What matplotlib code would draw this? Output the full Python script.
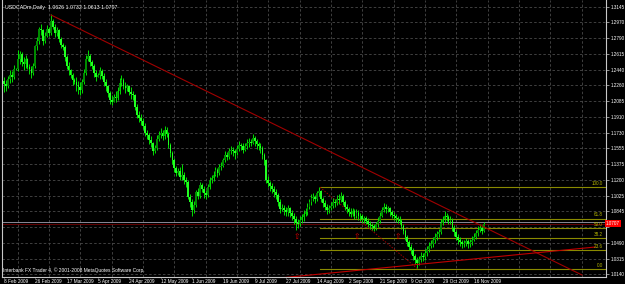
import matplotlib
matplotlib.use("Agg")
import matplotlib.pyplot as plt
import matplotlib.transforms as mtransforms
import numpy as np

plt.rcParams["font.family"] = ["Liberation Sans", "DejaVu Sans"]

# USDCAD daily, prices in pips (x 1e-4); open of each bar = previous close
first_open = 12310
close = [
    12280, 12250, 12330, 12380, 12360, 12450, 12440, 12560, 12610, 12520,
    12500, 12560, 12470, 12440, 12400, 12480, 12700, 12760, 12890, 12880,
    12760, 12820, 12900, 12850, 12990, 12920, 12850, 12880, 12780, 12720,
    12690, 12580, 12480, 12430, 12380, 12320, 12300, 12270, 12240, 12210,
    12300, 12400, 12560, 12590, 12520, 12480, 12400, 12360, 12380, 12420,
    12370, 12300, 12250, 12180, 12100, 12080, 12130, 12120, 12200, 12290,
    12320, 12260, 12230, 12250, 12190, 12160, 12150, 12020, 11930, 11900,
    11860, 11810, 11730, 11700, 11650, 11610, 11520, 11560, 11660, 11700,
    11730, 11690, 11760, 11720, 11590, 11500, 11420, 11330, 11280, 11300,
    11230, 11250, 11200, 11180, 11010, 10950, 10860, 10920, 11060, 11020,
    11140, 11100, 11050, 11030, 11120, 11200, 11220, 11260, 11310, 11280,
    11340, 11360, 11420, 11480, 11460, 11520, 11540, 11530, 11500, 11550,
    11590, 11580, 11540, 11580, 11610, 11630, 11620, 11670, 11640, 11600,
    11580, 11560, 11480, 11420, 11200, 11160, 11130, 11100, 11060, 11030,
    10950, 10870, 10890, 10860, 10840, 10880, 10830, 10800, 10760, 10720,
    10700, 10750, 10780, 10820, 10840, 10900, 10950, 11000, 11010, 10980,
    11050, 11070, 10980, 10940, 10900, 10860, 10880, 10910, 10950, 10940,
    10990, 10970, 11020, 10950, 10900, 10870, 10840, 10820, 10850, 10800,
    10830, 10800, 10790, 10760, 10770, 10740, 10710, 10690, 10680, 10660,
    10700, 10740, 10800, 10860, 10900, 10870, 10880, 10840, 10810, 10790,
    10770, 10760, 10740, 10680, 10630, 10560, 10500, 10450, 10410, 10340,
    10300, 10270, 10310, 10350, 10330, 10380, 10420, 10460, 10480, 10520,
    10560, 10590, 10610, 10720, 10760, 10790, 10780, 10740, 10750, 10660,
    10610, 10560, 10520, 10500, 10480, 10490, 10510, 10480, 10500, 10530,
    10560, 10600, 10640, 10660, 10626, 10707,
]
high = [
    12355, 12320, 12370, 12430, 12420, 12490, 12460, 12660, 12650, 12640,
    12580, 12600, 12570, 12500, 12480, 12510, 12720, 12800, 12920, 12950,
    12900, 12860, 12940, 12920, 13060, 13010, 12950, 12920, 12900, 12810,
    12740, 12710, 12600, 12520, 12450, 12400, 12340, 12350, 12310, 12300,
    12330, 12440, 12600, 12660, 12610, 12550, 12500, 12430, 12400, 12470,
    12450, 12400, 12330, 12270, 12200, 12150, 12160, 12200, 12240, 12340,
    12380, 12340, 12300, 12280, 12270, 12240, 12200, 12170, 12050, 11970,
    11940, 11890, 11840, 11760, 11730, 11690, 11630, 11590, 11700, 11750,
    11780, 11760, 11800, 11790, 11740, 11610, 11530, 11450, 11360, 11330,
    11340, 11380, 11290, 11230, 11200, 11040, 10980, 10960, 11090, 11110,
    11180, 11170, 11130, 11090, 11150, 11230, 11260, 11300, 11350, 11330,
    11380, 11400, 11450, 11520, 11510, 11560, 11580, 11570, 11550, 11590,
    11640, 11620, 11610, 11620, 11660, 11670, 11660, 11710, 11690, 11660,
    11630, 11610, 11580, 11500, 11430, 11240, 11190, 11170, 11130, 11100,
    11050, 10980, 10930, 10920, 10900, 10920, 10900, 10860, 10830, 10790,
    10760, 10790, 10820, 10860, 10890, 10940, 10990, 11040, 11050, 11030,
    11080, 11117, 11090, 11010, 10970, 10930, 10920, 10950, 11000, 10980,
    11030, 11040, 11060, 11040, 10970, 10930, 10900, 10880, 10890, 10870,
    10870, 10860, 10830, 10820, 10800, 10800, 10770, 10740, 10720, 10710,
    10730, 10780, 10840, 10900, 10940, 10930, 10910, 10900, 10860, 10840,
    10820, 10800, 10790, 10760, 10700, 10650, 10580, 10530, 10480, 10430,
    10370, 10330, 10350, 10390, 10380, 10420, 10460, 10500, 10520, 10560,
    10600, 10630, 10650, 10760, 10800, 10850, 10830, 10810, 10790, 10770,
    10690, 10640, 10590, 10560, 10530, 10530, 10550, 10540, 10540, 10570,
    10600, 10640, 10680, 10700, 10690, 10732,
]
low = [
    12190, 12200, 12230, 12290, 12300, 12330, 12430, 12420, 12500, 12480,
    12430, 12460, 12440, 12390, 12340, 12380, 12460, 12660, 12730, 12830,
    12720, 12740, 12800, 12820, 12830, 12890, 12800, 12820, 12750, 12680,
    12660, 12540, 12440, 12380, 12340, 12270, 12280, 12200, 12170, 12150,
    12180, 12280, 12380, 12530, 12480, 12440, 12360, 12310, 12350, 12330,
    12330, 12260, 12200, 12130, 12050, 12040, 12070, 12070, 12100, 12170,
    12260, 12220, 12180, 12200, 12150, 12110, 12100, 11980, 11890, 11850,
    11820, 11770, 11690, 11660, 11600, 11570, 11480, 11500, 11540, 11640,
    11670, 11650, 11660, 11680, 11560, 11460, 11380, 11290, 11240, 11260,
    11200, 11200, 11150, 11120, 10980, 10900, 10790, 10830, 10900, 10980,
    11000, 11060, 11000, 10990, 11010, 11100, 11170, 11190, 11240, 11230,
    11260, 11310, 11340, 11400, 11420, 11440, 11490, 11470, 11440, 11480,
    11530, 11540, 11500, 11520, 11550, 11570, 11580, 11600, 11580, 11550,
    11540, 11500, 11440, 11370, 11170, 11120, 11080, 11050, 11010, 10980,
    10910, 10830, 10850, 10810, 10790, 10800, 10780, 10750, 10710, 10640,
    10660, 10680, 10720, 10740, 10790, 10810, 10870, 10920, 10960, 10940,
    10960, 11020, 10950, 10900, 10860, 10820, 10830, 10860, 10890, 10900,
    10920, 10930, 10950, 10920, 10860, 10830, 10800, 10780, 10790, 10760,
    10770, 10750, 10740, 10720, 10720, 10700, 10670, 10650, 10640, 10630,
    10640, 10670, 10720, 10780, 10840, 10830, 10840, 10800, 10770, 10750,
    10730, 10720, 10700, 10650, 10590, 10520, 10460, 10410, 10370, 10300,
    10260, 10206, 10240, 10280, 10290, 10300, 10350, 10390, 10430, 10450,
    10490, 10530, 10560, 10590, 10690, 10730, 10740, 10700, 10700, 10630,
    10570, 10520, 10480, 10460, 10440, 10450, 10460, 10440, 10450, 10470,
    10510, 10540, 10570, 10610, 10590, 10613,
]
assert len(close) == len(high) == len(low)

date_labels = ["8 Feb 2009", "26 Feb 2009", "17 Mar 2009", "5 Apr 2009",
               "24 Apr 2009", "12 May 2009", "1 Jun 2009", "19 Jun 2009",
               "9 Jul 2009", "27 Jul 2009", "14 Aug 2009", "2 Sep 2009",
               "21 Sep 2009", "9 Oct 2009", "29 Oct 2009", "16 Nov 2009"]
bars_per_label = 16

price_labels = ["1.3145", "1.2970", "1.2790", "1.2615", "1.2440", "1.2260",
                "1.2085", "1.1910", "1.1730", "1.1555", "1.1375", "1.1200",
                "1.1025", "1.0845", "1.0670", "1.0490", "1.0315", "1.0140"]
price_top, price_bottom = 1.3145, 1.0140

header = "USDCADm,Daily  1.0626 1.0732 1.0613 1.0707"
footer = "Interbank FX Trader 4, \u00a9 2001-2008 MetaQuotes Software Corp."
last_price = 1.0707
last_text = "1.0707"
bid_line = 1.0722

# fibonacci retracement (high/low anchors in bar index, price)
fib_high = (161.4, 1.1117)
fib_low = (211.4, 1.0199)
fib_ratios = [1.0, 0.618, 0.5, 0.382, 0.236, 0.0]
fib_texts = ["100.0", "61.8", "50.0", "38.2", "23.6", "0.0"]

# trend lines (bar index, price)
down_trend = [(24.0, 1.3052), (295.2, 1.0132)]
up_trend = [(143.5, 1.0104), (301.8, 1.0446)]
arrow_bars = [149.6, 180.3, 200.9]
arrow_price = 1.0560

# ---- figure ----
W, H = 625, 284
fig = plt.figure(figsize=(W / 100, H / 100), dpi=100, facecolor="black")
ax = fig.add_axes([2 / W, 7 / H, 604 / W, 277 / H], facecolor="black")

px_per_bar = 1.958
x0_px = 4.0
ax.set_xlim((2 - x0_px) / px_per_bar, (606 - x0_px) / px_per_bar)
px_per_price = 267.6 / (price_top - price_bottom)
ax.set_ylim(price_top - 270.3 / px_per_price, price_top + 6.7 / px_per_price)
yblend = mtransforms.blended_transform_factory(ax.transAxes, ax.transData)

c = np.array(close) / 1e4
h = np.array(high) / 1e4
l = np.array(low) / 1e4
o = np.concatenate([[first_open / 1e4], c[:-1]])
x = np.arange(len(c))

# grid
levels = np.linspace(price_top, price_bottom, len(price_labels))
for lv in levels:
    ax.axhline(lv, color="#4a4a4a", lw=0.6, ls=(0, (3, 2.5)), zorder=0)
for gx in np.arange(7, 308, bars_per_label):
    ax.axvline(gx, color="#4a4a4a", lw=0.6, ls=(0, (3, 2.5)), zorder=0)

# candles
ax.vlines(x, l, h, color="#00ee00", lw=0.65, zorder=3)
up = c >= o
ax.bar(x[up], (c - o)[up], bottom=o[up], width=0.9, color="#008a00", zorder=4)
ax.bar(x[~up], (c - o)[~up], bottom=o[~up], width=0.9, color="#22ff22", zorder=4)

# fibonacci
fib_range = fib_high[1] - fib_low[1]
for r, t in zip(fib_ratios, fib_texts):
    p = fib_low[1] + r * fib_range
    ax.plot([fib_high[0], 400], [p, p], color="#8a8a00", lw=0.8, zorder=2)
    ax.text(0.995, p + 0.0012, t, transform=yblend,
            ha="right", va="bottom", fontsize=3.3, color="#b4b400", zorder=6)
ax.plot([fib_high[0], fib_low[0]], [fib_high[1], fib_low[1]], color="#a00000", lw=0.7,
        ls=(0, (1.5, 1.5)), zorder=2)

# trend lines
ax.plot(*zip(*down_trend), color="#a00000", lw=0.8, zorder=5)
ax.plot(*zip(*up_trend), color="#c00000", lw=0.8, zorder=5)

# price lines
ax.axhline(last_price, color="#8b0000", lw=0.5, zorder=2)
ax.axhline(bid_line, color="#a0a0b0", lw=0.6, zorder=2)

for b in arrow_bars:
    ax.text(b, arrow_price, "\u21e7", family="DejaVu Sans", fontsize=5.5, color="#dd0000",
            ha="center", va="center", zorder=6)

# axes styling
ax.spines["top"].set_visible(False)
for s in ["left", "right", "bottom"]:
    ax.spines[s].set_color("#c8c8c8")
    ax.spines[s].set_linewidth(0.8)
ax.yaxis.tick_right()
ax.set_yticks(levels)
ax.set_yticklabels([t if t != "1.0670" else "" for t in price_labels])
ax.tick_params(axis="y", direction="out", length=2, width=0.5, color="#c8c8c8",
               labelsize=3.3, labelcolor="white", pad=1.2)
label_bars = np.arange(len(date_labels)) * bars_per_label
ax.set_xticks(label_bars)
ax.set_xticklabels(date_labels, ha="left")
ax.tick_params(axis="x", direction="out", length=0.8, width=0.5, color="#c8c8c8",
               labelsize=3.4, labelcolor="white", pad=0.3)

ax.text(1.0, last_price, last_text, transform=yblend,
        ha="left", va="center", fontsize=3.3, color="white", zorder=10, clip_on=False,
        bbox=dict(facecolor="#ff0000", edgecolor="none", pad=0.8))

fig.text(5 / W, 1 - 7 / H, header, ha="left", va="center", fontsize=3.8, color="white")
fig.text(3 / W, 1 - 270 / H, footer, ha="left", va="center", fontsize=3.5, color="white")

fig.savefig("out.png", dpi=100, facecolor="black")
